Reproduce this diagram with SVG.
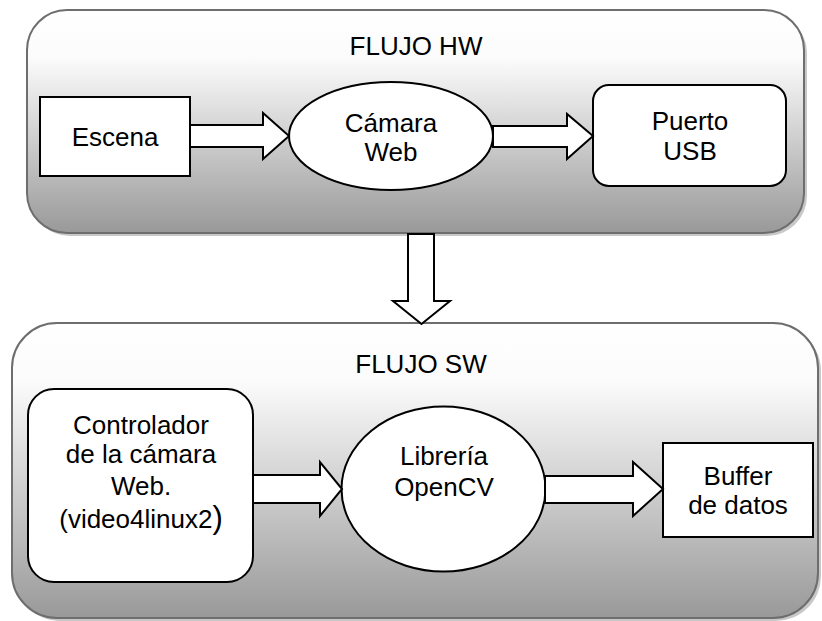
<svg xmlns="http://www.w3.org/2000/svg" width="822" height="621" viewBox="0 0 822 621">
<defs>
<linearGradient id="g1" x1="0" y1="0" x2="0" y2="1">
<stop offset="0" stop-color="#ffffff"/>
<stop offset="0.22" stop-color="#fbfbfb"/>
<stop offset="1" stop-color="#999999"/>
</linearGradient>
<linearGradient id="g2" x1="0" y1="0" x2="0" y2="1">
<stop offset="0" stop-color="#ffffff"/>
<stop offset="0.2" stop-color="#fbfbfb"/>
<stop offset="1" stop-color="#999999"/>
</linearGradient>
</defs>
<style>
.cont{stroke:#6e6e6e;stroke-width:2}
.shadow{fill:#c8c8c8}
.node{fill:#ffffff;stroke:#000000;stroke-width:2}
.arr{fill:#ffffff;stroke:#000000;stroke-width:2;stroke-linejoin:miter}
text{font-family:"Liberation Sans",Arial,sans-serif;font-size:26px;fill:#000000;text-anchor:middle}
</style>
<rect class="shadow" x="30" y="13" width="777" height="223" rx="40"/>
<rect class="shadow" x="15" y="326" width="806" height="295" rx="45"/>
<g id="flujo-hw">
<rect class="cont" x="27" y="10" width="777" height="223" rx="40" fill="url(#g1)"/>
<text x="416" y="55">FLUJO HW</text>
</g>
<g id="flujo-sw">
<rect class="cont" x="12" y="323" width="806" height="295" rx="45" fill="url(#g2)"/>
<text x="421" y="373">FLUJO SW</text>
</g>
<g id="escena">
<rect class="node" x="40" y="97" width="150" height="79"/>
<text x="115" y="146">Escena</text>
</g>
<g id="camara-web">
<ellipse class="node" cx="391" cy="136" rx="102" ry="54"/>
<text x="391" y="132">Cámara</text>
<text x="391" y="161">Web</text>
</g>
<g id="puerto-usb">
<rect class="node" x="593" y="85" width="193" height="101" rx="16"/>
<text x="690" y="130">Puerto</text>
<text x="690" y="160">USB</text>
</g>
<g id="controlador">
<rect class="node" x="28" y="389" width="225" height="193" rx="26"/>
<text x="141" y="434">Controlador</text>
<text x="141" y="463">de la cámara</text>
<text x="141" y="495">Web.</text>
<text x="141" y="528">(video4linux2<tspan font-size="31px">)</tspan></text>
</g>
<g id="libreria-opencv">
<ellipse class="node" cx="443.5" cy="489" rx="102" ry="82.5"/>
<text x="444" y="465">Librería</text>
<text x="444" y="496">OpenCV</text>
</g>
<g id="buffer">
<rect class="node" x="663" y="443" width="150" height="94"/>
<text x="738" y="485">Buffer</text>
<text x="738" y="514">de datos</text>
</g>
<g id="connectors">
<polygon class="arr" points="190,125 263,125 263,113 289,136 263,159 263,147 190,147"/>
<polygon class="arr" points="493,126 567,126 567,114 593,136 567,159 567,147 493,147"/>
<polygon class="arr" points="408,234 434,234 434,301 450,301 421.5,324 393,301 408,301"/>
<polygon class="arr" points="253,475 320,475 320,462 342,489 320,516 320,503 253,503"/>
<polygon class="arr" points="545,476 633,476 633,462 663,489 633,516 633,503 545,503"/>
</g>
</svg>
